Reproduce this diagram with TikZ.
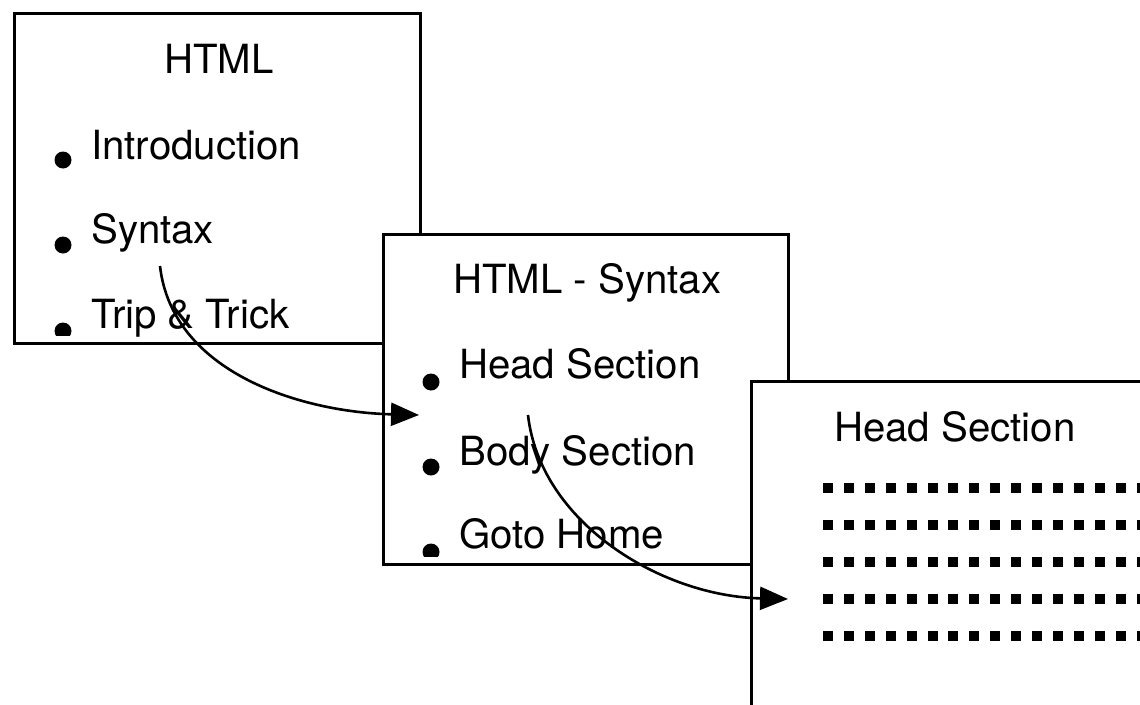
\documentclass[tikz,border=0pt]{standalone}
\usepackage{fontspec}
\setmainfont{TeX Gyre Heros}
\usepackage{tikz}
\usetikzlibrary{arrows.meta, positioning}

\tikzset{
  panel/.style={draw, fill=white, line width=2.8pt, anchor=north west, inner sep=0pt},
  item/.style={anchor=base west, inner sep=0pt, font=\fontsize{40.2}{46}\selectfont},
  heading/.style={anchor=base west, inner sep=0pt, font=\fontsize{40.2}{46}\selectfont},
  link/.style={line width=2.6pt, -{Triangle[length=28pt, width=23pt]}}
}

\begin{document}
\begin{tikzpicture}[x=1pt, y=-1pt]
  \clip (0,0) rectangle (1140,704);
  \fill[white] (0,0) rectangle (1140,704);

  % First page: HTML
  \node[panel, minimum width=406, minimum height=330] (page1) at (13,12) {};
  \node[heading] (title1) at (164,73) {HTML};
  \node[item] (intro) at (91,159) {Introduction};
  \node[item] (syntax) at (91,243) {Syntax};
  \node[item] (trick) at (91,328) {Trip \& Trick};
  \foreach \y in {160, 245} {
    \fill (63,\y) circle (8.5);
  }
  \begin{scope}
    \clip (40,300) rectangle (90,335);
    \fill (63,331) circle (8.5);
  \end{scope}

  % Second page: HTML - Syntax
  \node[panel, minimum width=405, minimum height=330] (page2) at (382,233) {};
  \node[heading] (title2) at (453,293) {HTML - Syntax};
  \node[item] (head) at (459,378) {Head Section};
  \node[item] (body) at (459,465) {Body Section};
  \node[item] (home) at (459,548) {Goto Home};
  \foreach \y in {382, 467} {
    \fill (431,\y) circle (8.5);
  }
  \begin{scope}
    \clip (410,530) rectangle (455,556);
    \fill (431,552) circle (8.5);
  \end{scope}

  % Third page: Head Section
  \node[panel, minimum width=500, minimum height=400] (page3) at (750,380) {};
  \node[heading] (title3) at (834,441) {Head Section};
  \foreach \r in {0,...,4} {
    \foreach \c in {0,...,15} {
      \fill ({823+20.9*\c},{483+37*\r}) rectangle ++(10,10);
    }
  }

  % Links between pages
  \coordinate (from1) at (160,266);
  \coordinate (to1) at (419,415);
  \coordinate (from2) at (528,415);
  \coordinate (to2) at (788,599);
  \draw[link] (from1) .. controls (172,372) and (300,412) .. (to1);
  \draw[link] (from2) .. controls (540,522) and (660,596) .. (to2);
\end{tikzpicture}
\end{document}
